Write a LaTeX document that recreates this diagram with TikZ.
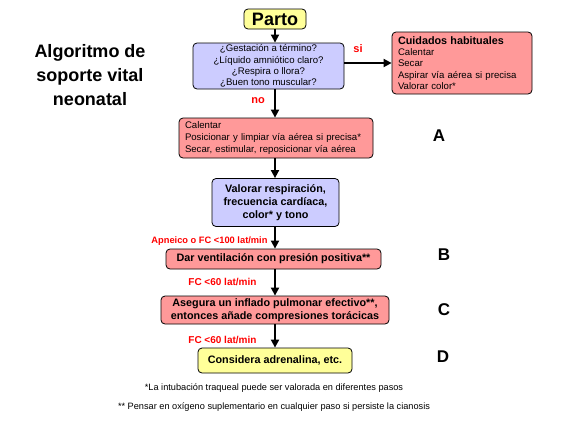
\documentclass[tikz,border=0pt]{standalone}
\usepackage{fontspec}
\setmainfont{Liberation Sans}
\usetikzlibrary{arrows.meta,positioning}
\definecolor{nlila}{HTML}{CCCCFF}
\definecolor{nrosa}{HTML}{FF9999}
\definecolor{namar}{HTML}{FFFF99}
\definecolor{nrojo}{HTML}{FF0000}
\tikzset{
 box/.style={draw=black,rounded corners=4pt,inner sep=0pt,line width=0.8pt,align=center,
   font=\fontsize{9.6}{11.2}\selectfont},
 lilabox/.style={box,fill=nlila},
 rosabox/.style={box,fill=nrosa},
 amarbox/.style={box,fill=namar},
 negrita/.style={font=\bfseries\fontsize{10.8}{13}\selectfont},
 arrow/.style={-{Triangle[length=8pt,width=8pt]},line width=1.8pt,draw=black},
 cond/.style={text=nrojo,font=\bfseries\fontsize{9.3}{11}\selectfont},
 letra/.style={font=\bfseries\fontsize{17}{20}\selectfont},
 nota/.style={font=\fontsize{9.2}{10}\selectfont}
}
\begin{document}
\begin{tikzpicture}[x=1pt,y=-1pt]
 \useasboundingbox (0,0) rectangle (564,423);
 % columna principal
 \node[amarbox,minimum width=62pt,minimum height=20pt,font=\bfseries\fontsize{18}{20}\selectfont] (parto) at (275,19) {Parto};
 \node[lilabox,minimum width=151pt,minimum height=46pt] (preg) at (268.5,66)
   {¿Gestación a término?\\¿Líquido amniótico claro?\\¿Respira o llora?\\¿Buen tono muscular?};
 \node[rosabox,minimum width=140pt,minimum height=62pt,text width=128pt,align=left] (cuid) at (462,63)
   {\textbf{\fontsize{10.8}{12}\selectfont Cuidados habituales}\\Calentar\\Secar\\Aspirar vía aérea si precisa\\Valorar color*};
 \node[rosabox,minimum width=194pt,minimum height=40pt,text width=182pt,align=left,
   font=\fontsize{9.6}{11.6}\selectfont] (pasoA) at (276,138)
   {Calentar\\Posicionar y limpiar vía aérea si precisa*\\Secar, estimular, reposicionar vía aérea};
 \node[lilabox,negrita,minimum width=127pt,minimum height=48pt] (valor) at (275.5,202.5)
   {Valorar respiración,\\frecuencia cardíaca,\\color* y tono};
 \node[rosabox,negrita,minimum width=215pt,minimum height=20pt] (pasoB) at (273.5,259)
   {Dar ventilación con presión positiva**};
 \node[rosabox,negrita,minimum width=228pt,minimum height=28pt] (pasoC) at (275,310)
   {Asegura un inflado pulmonar efectivo**,\\entonces añade compresiones torácicas};
 \node[amarbox,negrita,minimum width=154pt,minimum height=25pt] (pasoD) at (275,360.5)
   {Considera adrenalina, etc.};
 % titulo y letras
 \node[align=center,font=\bfseries\fontsize{18}{24}\selectfont] (titulo) at (90,75)
   {Algoritmo de\\soporte vital\\neonatal};
 \node[letra] (letA) at (439,136) {A};
 \node[letra] (letB) at (444,255) {B};
 \node[letra] (letC) at (444,310) {C};
 \node[letra] (letD) at (443,357) {D};
 % flechas
 \draw[arrow] (parto.south) -- (parto.south |- preg.north);
 \draw[arrow] (preg.east |- cuid.west) -- (cuid.west);
 \draw[arrow] (preg.south -| parto.south) -- (parto.south |- pasoA.north);
 \draw[arrow] (pasoA.south -| parto.south) -- (parto.south |- valor.north);
 \draw[arrow] (valor.south -| parto.south) -- (parto.south |- pasoB.north);
 \draw[arrow] (pasoB.south -| parto.south) -- (parto.south |- pasoC.north);
 \draw[arrow] (pasoC.south -| parto.south) -- (parto.south |- pasoD.north);
 % condiciones
 \node[cond,font=\bfseries\fontsize{11}{12}\selectfont] (si) at (358,49) {si};
 \node[cond,font=\bfseries\fontsize{11}{12}\selectfont] (no) at (258,101) {no};
 \node[cond,anchor=east] (apnea) at (271,241) {Apneico o FC <100 lat/min};
 \node[cond,anchor=east,font=\bfseries\fontsize{10}{11}\selectfont] (fc1) at (260,282) {FC <60 lat/min};
 \node[cond,anchor=east,font=\bfseries\fontsize{10}{11}\selectfont] (fc2) at (260,340) {FC <60 lat/min};
 % notas
 \node[nota] (nota1) at (274,388) {*La intubación traqueal puede ser valorada en diferentes pasos};
 \node[nota] (nota2) at (274,407) {** Pensar en oxígeno suplementario en cualquier paso si persiste la cianosis};
\end{tikzpicture}
\end{document}
